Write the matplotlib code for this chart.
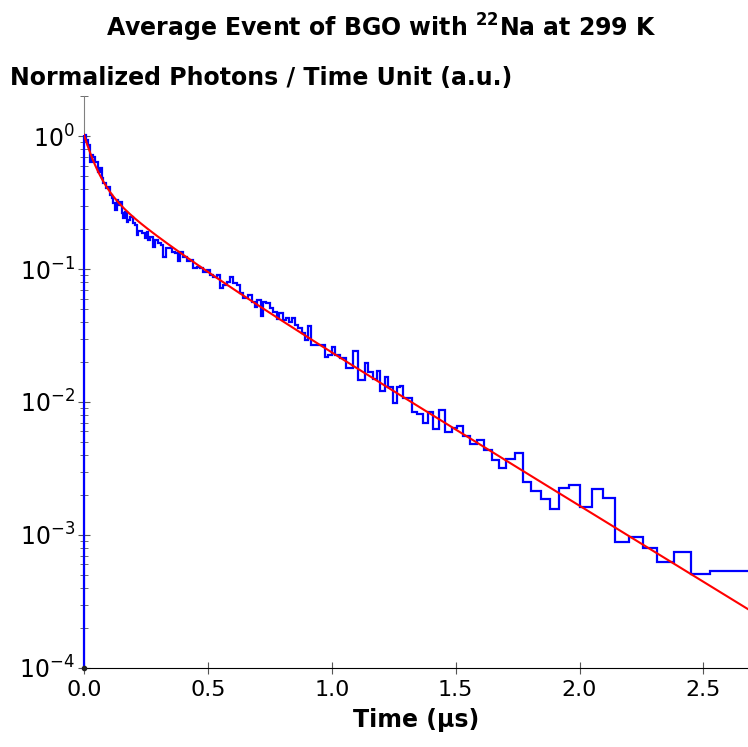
import numpy as np
import matplotlib
matplotlib.use('Agg')
import matplotlib.pyplot as plt

# histogram bin left edges (microseconds) and normalized photon rate
t_edges = [0.000, 0.0081, 0.0175, 0.0242, 0.0309, 0.0377, 0.0444, 0.0578, 0.0646, 0.0713,
           0.078, 0.0888, 0.0982, 0.105, 0.112, 0.118, 0.125, 0.132, 0.139, 0.145,
           0.152, 0.159, 0.165, 0.172, 0.179, 0.186, 0.199, 0.206, 0.213, 0.219,
           0.233, 0.246, 0.253, 0.260, 0.266, 0.277, 0.287, 0.300, 0.309, 0.320,
           0.331, 0.354, 0.367, 0.381, 0.387, 0.401, 0.414, 0.428, 0.441, 0.455,
           0.468, 0.482, 0.495, 0.508, 0.522, 0.535, 0.549, 0.562, 0.576, 0.589,
           0.603, 0.616, 0.630, 0.640, 0.663, 0.677, 0.690, 0.700, 0.713, 0.724,
           0.734, 0.751, 0.764, 0.777, 0.788, 0.802, 0.815, 0.829, 0.838, 0.852,
           0.865, 0.878, 0.892, 0.905, 0.916, 0.973, 0.986, 0.999, 1.013, 1.033,
           1.057, 1.087, 1.107, 1.134, 1.148, 1.168, 1.184, 1.195, 1.215, 1.228,
           1.249, 1.262, 1.275, 1.286, 1.322, 1.345, 1.367, 1.387, 1.410, 1.434,
           1.457, 1.484, 1.506, 1.531, 1.558, 1.587, 1.614, 1.645, 1.676, 1.705,
           1.739, 1.770, 1.806, 1.844, 1.881, 1.918, 1.958, 2.002, 2.049, 2.096,
           2.143, 2.199, 2.255, 2.313, 2.381, 2.448, 2.525, 2.75]
rate = [1.02, 0.933, 0.856, 0.641, 0.720, 0.699, 0.641, 0.539, 0.578, 0.481,
        0.441, 0.404, 0.416, 0.360, 0.344, 0.312, 0.278, 0.330, 0.303, 0.321,
        0.262, 0.243, 0.270, 0.227, 0.233, 0.247, 0.221, 0.214, 0.180, 0.193,
        0.185, 0.170, 0.191, 0.165, 0.175, 0.147, 0.165, 0.156, 0.151, 0.124,
        0.143, 0.135, 0.131, 0.114, 0.135, 0.124, 0.114, 0.117, 0.101, 0.104,
        0.101, 0.0955, 0.0983, 0.0901, 0.0875, 0.0901, 0.0716, 0.0758, 0.0803, 0.0875,
        0.0780, 0.0758, 0.0656, 0.0601, 0.0638, 0.0568, 0.0521, 0.0585, 0.0443, 0.0568,
        0.0552, 0.0506, 0.0478, 0.0418, 0.0470, 0.0414, 0.0426, 0.0402, 0.0426, 0.0379,
        0.0358, 0.0328, 0.0292, 0.0372, 0.0268, 0.0219, 0.0226, 0.0257, 0.0226, 0.0213,
        0.0181, 0.0242, 0.0146, 0.0198, 0.0169, 0.0148, 0.0171, 0.0122, 0.0155, 0.0130,
        0.00977, 0.0130, 0.0132, 0.0107, 0.00845, 0.00809, 0.00692, 0.00845, 0.00627, 0.00871,
        0.00598, 0.00634, 0.00660, 0.00555, 0.00483, 0.00518, 0.00433, 0.00364, 0.00317, 0.00375,
        0.00416, 0.00250, 0.00213, 0.00185, 0.00157, 0.00227, 0.00236, 0.00163, 0.00222, 0.00189,
        0.000891, 0.000966, 0.000794, 0.000621, 0.000745, 0.000507, 0.000536]

# three-component exponential fit (amplitude, decay time in us)
fit_amp = [0.55, 0.15, 0.32]
fit_tau = [0.045, 0.18, 0.38]

fig = plt.figure(figsize=(7.48, 7.47), dpi=100)
ax = fig.add_axes([0.1123, 0.1058, 0.8877, 0.7657])

ymin, ymax = 1e-4, 2.0

ax.stairs(rate, t_edges, baseline=None, color='#0000ff', lw=1.6, zorder=3)
# leading edge of the histogram, drawn over the axis line
ax.vlines(t_edges[0], ymin, rate[0], color='#0000ff', lw=1.6, zorder=4, clip_on=False)

t = np.linspace(0, 2.75, 600)
fit = sum(a * np.exp(-t / tau) for a, tau in zip(fit_amp, fit_tau))
ax.plot(t, fit, color='#ff0000', lw=1.5, zorder=5)
ax.plot([0], [ymin], 'o', color='#222222', ms=3, clip_on=False, zorder=6)

ax.set_yscale('log')
ax.set_xlim(0, 2.68)
ax.set_ylim(ymin, ymax)
ax.set_xticks([0.0, 0.5, 1.0, 1.5, 2.0, 2.5])
ax.set_xticklabels(['0.0', '0.5', '1.0', '1.5', '2.0', '2.5'])

for s in ['top', 'right']:
    ax.spines[s].set_visible(False)
ax.spines['left'].set_color('#808080')
ax.spines['bottom'].set_color('black')

ax.tick_params(axis='y', which='major', direction='inout', length=9, color='#555555',
               labelsize=17, pad=2)
ax.tick_params(axis='y', which='minor', direction='inout', length=6, color='#555555')
ax.tick_params(axis='x', which='major', direction='inout', length=9, color='#555555',
               labelsize=16, pad=4)
ax.tick_params(axis='x', which='minor', bottom=False)

ax.set_xlabel('Time (µs)', fontsize=17, fontweight='bold', labelpad=6)
fig.text(0.013, 0.8956, 'Normalized Photons / Time Unit (a.u.)', fontsize=17,
         fontweight='bold', ha='left', va='center')
fig.text(0.51, 0.9625, r'Average Event of BGO with $^{\mathbf{22}}$Na at 299 K', fontsize=17,
         fontweight='bold', ha='center', va='center')

fig.savefig('out.png', dpi=100)
